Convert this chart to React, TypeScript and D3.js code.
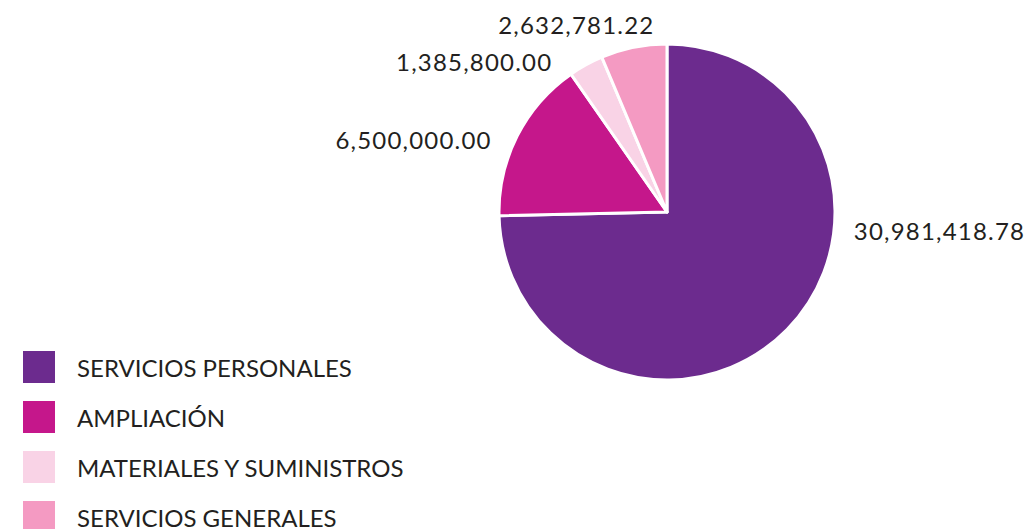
import { useRef, useEffect } from 'react';
import * as d3 from 'd3';

const categories = ['SERVICIOS PERSONALES', 'AMPLIACIÓN', 'MATERIALES Y SUMINISTROS', 'SERVICIOS GENERALES'];
const values = [30981418.78, 6500000.0, 1385800.0, 2632781.22];
const colors = ['#6C2B8E', '#C5178B', '#F9D3E6', '#F49AC2'];

// label placement tweaks (px) relative to the outer-arc centroid
const labelNudge: [number, number][] = [[51, -114], [-6, 14], [-23, 16], [25, -1]];
const labelAnchor = ['start', 'end', 'end', 'end'];

export default function App() {
  const svgRef = useRef<SVGSVGElement>(null);

  useEffect(() => {
    if (!svgRef.current) return;
    const svg = d3.select(svgRef.current);
    svg.selectAll('*').remove();

    const width = 1025;
    const height = 529;
    const cx = 667;
    const cy = 212;
    const r = 168;
    const font = 'Lato, "Open Sans", sans-serif';

    svg.attr('width', width).attr('height', height).attr('viewBox', `0 0 ${width} ${height}`);

    const data = categories.map((c, i) => ({ name: c, value: values[i], color: colors[i], i }));
    const pie = d3.pie<typeof data[number]>().sort(null).value((d) => d.value);
    const arcs = pie(data);
    const arc = d3.arc<d3.PieArcDatum<typeof data[number]>>().innerRadius(0).outerRadius(r);
    const labelArc = d3.arc<d3.PieArcDatum<typeof data[number]>>().innerRadius(190).outerRadius(190);

    const g = svg.append('g').attr('transform', `translate(${cx},${cy})`);

    g.selectAll('path.slice')
      .data(arcs)
      .join('path')
      .attr('class', 'slice')
      .attr('d', arc)
      .attr('fill', (d) => d.data.color)
      .attr('stroke', '#fff')
      .attr('stroke-width', 3)
      .attr('stroke-linejoin', 'round');

    // value labels
    const fmt = d3.format(',.2f');
    g.selectAll('text.val')
      .data(arcs)
      .join('text')
      .attr('class', 'val')
      .attr('x', (d) => labelArc.centroid(d)[0] + labelNudge[d.data.i][0])
      .attr('y', (d) => labelArc.centroid(d)[1] + labelNudge[d.data.i][1])
      .attr('dominant-baseline', 'central')
      .attr('text-anchor', (d) => labelAnchor[d.data.i])
      .attr('fill', '#231F20')
      .style('font-family', font)
      .style('font-size', '24px')
      .style('letter-spacing', '1.2px')
      .text((d) => fmt(d.data.value));

    // legend
    const legend = svg.append('g').attr('transform', 'translate(23, 351)');
    data.forEach((d, i) => {
      const row = legend.append('g').attr('transform', `translate(0, ${i * 50})`);
      row.append('rect').attr('width', 32).attr('height', 32).attr('fill', d.color);
      row.append('text')
        .attr('x', 54).attr('y', 16)
        .attr('dominant-baseline', 'central')
        .attr('fill', '#231F20')
        .style('font-family', font)
        .style('font-size', '24px')
        .text(d.name);
    });
  }, []);

  return <svg ref={svgRef} style={{ position: 'absolute', left: 0, top: 0, background: '#fff' }} />;
}
